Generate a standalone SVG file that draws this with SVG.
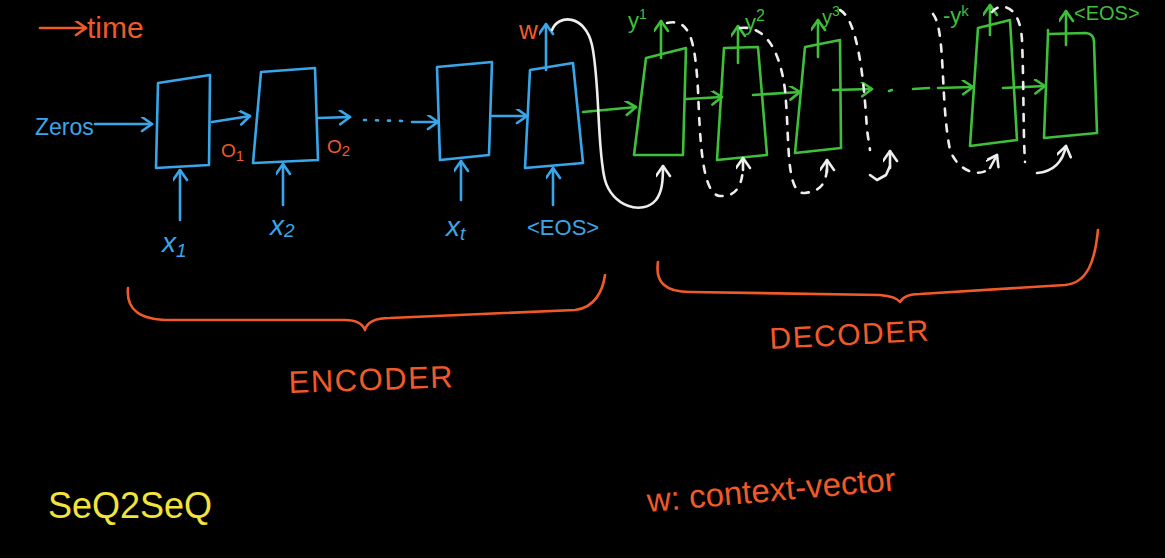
<svg xmlns="http://www.w3.org/2000/svg" width="1165" height="558" viewBox="0 0 1165 558">
<style>
.bg{fill:#000}
.b{stroke:#3aa6ea;fill:none;stroke-width:2.6;stroke-linejoin:round;stroke-linecap:round}
.g{stroke:#3fbf3a;fill:none;stroke-width:2.6;stroke-linejoin:round;stroke-linecap:round}
.o{stroke:#f05a28;fill:none;stroke-width:2.6;stroke-linejoin:round;stroke-linecap:round}
.w{stroke:#eeeeee;fill:none;stroke-width:2.6;stroke-linejoin:round;stroke-linecap:round}
.wd{stroke:#eeeeee;fill:none;stroke-width:2.6;stroke-linecap:round;stroke-dasharray:7 9}
.t{font-family:"Liberation Sans","DejaVu Sans",sans-serif}
.tb{fill:#3aa6ea}
.tg{fill:#3fbf3a}
.to{fill:#f05a28}
.ty{fill:#f2e43a}
</style>
<defs>
<marker id="ab" markerUnits="userSpaceOnUse" markerWidth="20" markerHeight="20" refX="12" refY="7" orient="auto" viewBox="0 0 20 20"><path d="M2,0 L12,7 L2,14" fill="none" stroke="#3aa6ea" stroke-width="2.6" stroke-linecap="round" stroke-linejoin="round"/></marker>
<marker id="ag" markerUnits="userSpaceOnUse" markerWidth="20" markerHeight="20" refX="12" refY="7" orient="auto" viewBox="0 0 20 20"><path d="M2,0 L12,7 L2,14" fill="none" stroke="#3fbf3a" stroke-width="2.6" stroke-linecap="round" stroke-linejoin="round"/></marker>
<marker id="ao" markerUnits="userSpaceOnUse" markerWidth="20" markerHeight="20" refX="12" refY="7" orient="auto" viewBox="0 0 20 20"><path d="M2,0 L12,7 L2,14" fill="none" stroke="#f05a28" stroke-width="2.6" stroke-linecap="round" stroke-linejoin="round"/></marker>
<marker id="aw" markerUnits="userSpaceOnUse" markerWidth="20" markerHeight="20" refX="12" refY="7" orient="auto" viewBox="0 0 20 20"><path d="M2,0 L12,7 L2,14" fill="none" stroke="#eeeeee" stroke-width="2.6" stroke-linecap="round" stroke-linejoin="round"/></marker>
</defs>
<rect class="bg" x="0" y="0" width="1165" height="558"/>

<g id="time-legend">
<line class="o" x1="40" y1="28" x2="86" y2="28" marker-end="url(#ao)"/>
<text class="t to" x="87" y="38" font-size="30">time</text>
</g>

<g id="zeros">
<text class="t tb" x="35" y="135" font-size="23">Zeros</text>
</g>

<g id="enc1"><polygon class="b" points="158,83 210,75 209,165 156,168"/></g>
<g id="enc2"><polygon class="b" points="261,72 315,68 318,160 253,163"/></g>
<g id="enc3"><polygon class="b" points="437,67 492,62 489,155 440,160"/></g>
<g id="enc4"><polygon class="b" points="530,70 573,63 583,163 525,168"/></g>

<g id="dec1"><polygon class="g" points="646,58 686,48 683,155 634,155"/></g>
<g id="dec2"><polygon class="g" points="724,48 758,47 767,155 717,160"/></g>
<g id="dec3"><polygon class="g" points="805,47 840,40 841,148 795,153"/></g>
<g id="dec4"><polygon class="g" points="978,28 1010,20 1017,140 970,146"/></g>
<g id="dec5"><path class="g" d="M1048,30 L1048,34 L1086,33 Q1094,34 1094,42 L1097,133 L1044,138 L1048,34"/></g>

<g id="labels">
<text class="t to" x="221" y="157" font-size="19">O<tspan font-size="15" dy="4">1</tspan></text>
<text class="t to" x="327" y="153" font-size="19">O<tspan font-size="15" dy="3">2</tspan></text>
<text class="t tb" x="162" y="252" font-size="28" font-style="italic">x<tspan font-size="19" dy="5">1</tspan></text>
<text class="t tb" x="270" y="235" font-size="28" font-style="italic">x<tspan font-size="19" dy="2">2</tspan></text>
<text class="t tb" x="446" y="236" font-size="28" font-style="italic">x<tspan font-size="19" dy="4">t</tspan></text>
<text class="t tb" x="527" y="235" font-size="22">&lt;EOS&gt;</text>
<text class="t to" x="519" y="39" font-size="26">w</text>
<text class="t tg" x="628" y="28" font-size="22">y<tspan font-size="14" dy="-9">1</tspan></text>
<text class="t tg" x="745" y="30" font-size="22">y<tspan font-size="16" dy="-9">2</tspan></text>
<text class="t tg" x="822" y="24" font-size="20">y<tspan font-size="14" dy="-8">3</tspan></text>
<text class="t tg" x="943" y="23" font-size="22">-y<tspan font-size="15" dy="-7">k</tspan></text>
<text class="t tg" x="1074" y="20" font-size="20">&lt;EOS&gt;</text>
</g>

<g id="connectors">
<!-- encoder blue -->
<line class="b" x1="95" y1="124" x2="152" y2="124" marker-end="url(#ab)"/>
<line class="b" x1="212" y1="122" x2="250" y2="116" marker-end="url(#ab)"/>
<line class="b" x1="318" y1="118" x2="350" y2="117" marker-end="url(#ab)"/>
<line class="b" x1="364" y1="120" x2="404" y2="121" stroke-dasharray="2 10"/>
<line class="b" x1="412" y1="122" x2="438" y2="122" marker-end="url(#ab)"/>
<line class="b" x1="492" y1="116" x2="527" y2="116" marker-end="url(#ab)"/>
<line class="b" x1="546" y1="70" x2="546" y2="24" marker-end="url(#ab)"/>
<line class="b" x1="180" y1="220" x2="180" y2="170" marker-end="url(#ab)"/>
<line class="b" x1="283" y1="205" x2="283" y2="164" marker-end="url(#ab)"/>
<line class="b" x1="461" y1="200" x2="461" y2="161" marker-end="url(#ab)"/>
<line class="b" x1="553" y1="205" x2="553" y2="168" marker-end="url(#ab)"/>
<!-- decoder green -->
<line class="g" x1="583" y1="112" x2="636" y2="107" marker-end="url(#ag)"/>
<line class="g" x1="686" y1="99" x2="722" y2="97" marker-end="url(#ag)"/>
<line class="g" x1="753" y1="95" x2="800" y2="92" marker-end="url(#ag)"/>
<line class="g" x1="833" y1="90" x2="872" y2="89" marker-end="url(#ag)"/>
<line class="g" x1="889" y1="91" x2="892" y2="90"/>
<line class="g" x1="913" y1="89" x2="929" y2="88"/>
<line class="g" x1="938" y1="88" x2="973" y2="87" marker-end="url(#ag)"/>
<line class="g" x1="1003" y1="88" x2="1045" y2="86" marker-end="url(#ag)"/>
<line class="g" x1="661" y1="58" x2="661" y2="21" marker-end="url(#ag)"/>
<line class="g" x1="738" y1="63" x2="738" y2="26" marker-end="url(#ag)"/>
<line class="g" x1="818" y1="57" x2="818" y2="20" marker-end="url(#ag)"/>
<line class="g" x1="990" y1="35" x2="990" y2="5" marker-end="url(#ag)"/>
<line class="g" x1="1066" y1="45" x2="1066" y2="11" marker-end="url(#ag)"/>
<!-- white context curve -->
<path class="w" d="M552,30 C558,14 585,14 592,45 C600,82 597,150 605,180 C612,206 642,216 656,200 C662,192 663,182 663,166" marker-end="url(#aw)"/>
<!-- white dashed feedback loops -->
<path class="wd" d="M667,23 C690,18 695,40 698,90 C700,140 702,195 720,196 C736,197 742,186 743,168"/>
<line class="w" x1="743" y1="170" x2="743" y2="158" marker-end="url(#aw)"/>
<path class="wd" d="M740,28 C765,25 780,50 785,90 C790,140 785,195 805,193 C822,191 826,182 827,168"/>
<line class="w" x1="827" y1="172" x2="827" y2="160" marker-end="url(#aw)"/>
<path class="wd" d="M840,10 C858,20 864,80 867,130 L870,150"/>
<path class="w" d="M870,175 L877,180 L886,175 L890,166"/>
<line class="w" x1="890" y1="168" x2="890" y2="151" marker-end="url(#aw)"/>
<path class="wd" d="M933,14 C946,30 940,100 950,150 C958,172 980,178 990,168"/>
<line class="w" x1="990" y1="168" x2="997" y2="155" marker-end="url(#aw)"/>
<path class="wd" d="M992,12 C1000,2 1020,4 1022,40 C1024,90 1023,130 1025,162"/>
<path class="w" d="M1037,173 C1050,172 1062,165 1066,146" marker-end="url(#aw)"/>
</g>

<g id="encoder-brace">
<path class="o" d="M128,288 C126,310 140,320 170,320 L345,320 C358,320 363,325 365,330 C367,322 375,318 390,318 L575,310 C595,308 603,290 605,275"/>
<text class="t to" x="289" y="393" font-size="31" letter-spacing="1.5" transform="rotate(-2 289 393)">ENCODER</text>
</g>

<g id="decoder-brace">
<path class="o" d="M658,262 C655,282 665,292 690,292 L880,295 C892,296 897,298 900,302 C903,296 910,294 920,294 L1065,285 C1088,283 1095,260 1098,230"/>
<text class="t to" x="770" y="349" font-size="30" letter-spacing="1.5" transform="rotate(-3 770 349)">DECODER</text>
</g>

<g id="title">
<text class="t ty" x="48" y="518" font-size="36">SeQ2SeQ</text>
</g>

<g id="legend-w">
<text class="t to" x="648" y="512" font-size="33" transform="rotate(-5 648 512)">w: context-vector</text>
</g>
</svg>
